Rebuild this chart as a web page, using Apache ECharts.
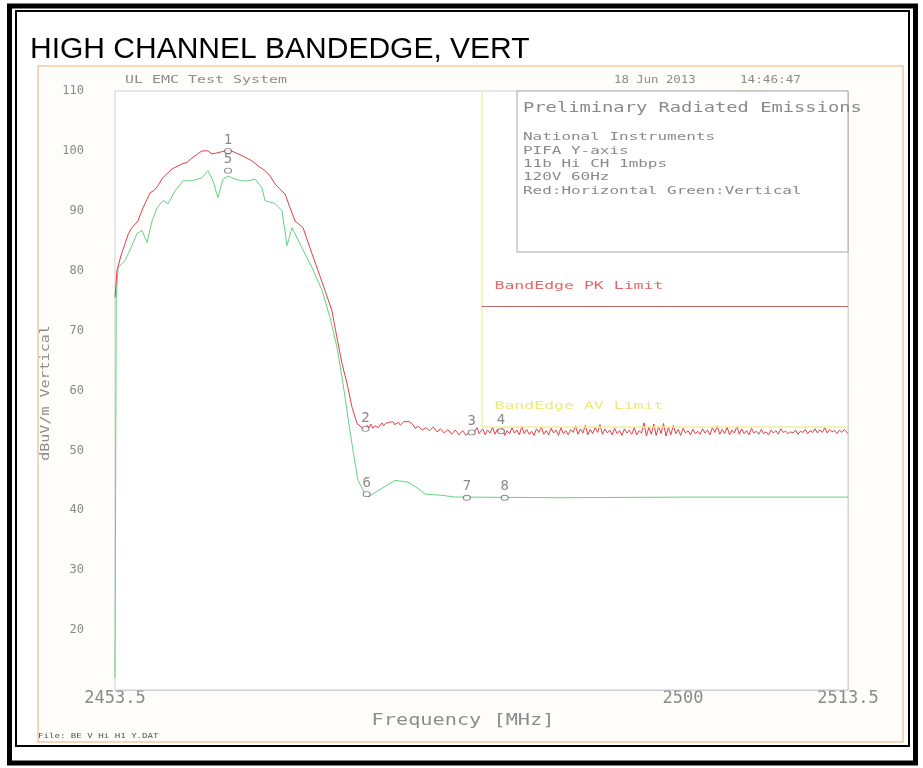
<!DOCTYPE html>
<html lang="en">
<head>
<meta charset="UTF-8">
<title>HIGH CHANNEL BANDEDGE, VERT</title>
<script src="https://cdn.jsdelivr.net/npm/echarts@6/dist/echarts.min.js"></script>
<style>
    html, body { margin: 0; padding: 0; background: #fff; }
    #main { width: 923px; height: 768px; }
</style>
</head>
<body>
<div id="main"></div>
<script>
    // axis ranges
    var freqMin = 2453.5, freqMax = 2513.5, freqStep = 46.5;
    var levelMin = 10, levelMax = 110, levelStep = 10;

    // limits
    var bandEdge = 2483.5;
    var pkLimit = 74;
    var avLimit = 54;

    // red trace: horizontal polarisation [MHz, dBuV/m]
    var redTrace = [
        [2453.5, 75.5], [2453.66, 80], [2454.0, 82.6], [2454.32, 84.5], [2454.6, 86.2], [2454.89, 87.2],
        [2455.38, 88.3], [2455.79, 90.5], [2456.37, 93], [2456.7, 93.4], [2457.02, 94.2], [2457.4, 95.5],
        [2457.76, 96.2], [2458.17, 97], [2458.98, 97.8], [2459.4, 98.1], [2459.8, 98.8], [2460.2, 99.4],
        [2460.62, 100], [2461.11, 100], [2461.44, 99.5], [2461.93, 99.7], [2462.5, 100], [2462.91, 100.1],
        [2463.57, 99.5], [2463.9, 99.2], [2464.39, 98.7], [2464.8, 98.2], [2465.21, 97.5], [2465.78, 96.7],
        [2466.2, 95.8], [2466.6, 94.5], [2467.0, 93.6], [2467.42, 92.8], [2467.83, 90.5], [2468.23, 88.3],
        [2468.89, 87.2], [2469.46, 83.8], [2470.12, 80], [2470.69, 76.7], [2471.26, 73.3], [2471.67, 68.8],
        [2472.08, 64.5], [2472.49, 61.2], [2472.9, 57.2], [2473.31, 54.5], [2473.72, 53.8],
        [2474.0, 53.6], [2474.15, 54.2], [2474.3, 53.8], [2474.45, 54.4], [2474.6, 53.7], [2474.75, 54.1],
        [2474.9, 54.3], [2475.05, 53.8], [2475.2, 54.0], [2475.35, 54.6], [2475.5, 54.1], [2475.65, 54.5],
        [2475.8, 54.2], [2475.95, 54.7], [2476.1, 54.4], [2476.25, 54.8], [2476.4, 54.3], [2476.55, 54.6],
        [2476.7, 54.7], [2476.85, 54.2], [2477.0, 54.4], [2477.15, 54.8], [2477.3, 54.5], [2477.6, 54.8],
        [2477.9, 54.3], [2478.05, 53.7], [2478.2, 53.5], [2478.35, 54.0], [2478.5, 54.2], [2478.65, 53.4],
        [2478.8, 53.2], [2478.95, 53.8], [2479.1, 53.9], [2479.25, 53.3], [2479.4, 53.4], [2479.55, 53.9],
        [2479.7, 53.6], [2479.85, 53.1], [2480.0, 53.2], [2480.15, 53.6], [2480.3, 53.4], [2480.45, 52.9],
        [2480.6, 53.0], [2480.75, 53.5], [2480.9, 53.2], [2481.05, 52.7], [2481.2, 52.9], [2481.35, 53.4],
        [2481.5, 53.0], [2481.65, 52.6], [2481.8, 52.8], [2481.95, 53.3], [2482.1, 53.0], [2482.25, 52.5],
        [2482.4, 52.7], [2482.55, 53.2], [2482.7, 53.0], [2482.85, 52.6], [2483.0, 53.4], [2483.15, 53.8],
        [2483.3, 52.8],
        [2483.6, 53.6], [2483.8, 52.6], [2484.0, 53.4], [2484.2, 52.9], [2484.4, 53.9], [2484.6, 52.7],
        [2484.8, 53.5], [2485.0, 53.0], [2485.2, 53.7], [2485.4, 52.5], [2485.6, 53.3], [2485.8, 52.8],
        [2486.0, 53.8], [2486.2, 52.9], [2486.4, 53.4], [2486.6, 52.6], [2486.8, 54.0], [2487.0, 52.8],
        [2487.2, 53.5], [2487.4, 52.7], [2487.6, 53.2], [2487.8, 52.5], [2488.0, 53.6], [2488.2, 53.0],
        [2488.4, 53.9], [2488.6, 52.7], [2488.8, 53.3], [2489.0, 52.6], [2489.2, 53.7], [2489.4, 52.9],
        [2489.6, 53.4], [2489.8, 52.5], [2490.0, 53.8], [2490.2, 52.8], [2490.4, 53.3], [2490.6, 52.6],
        [2490.8, 53.5], [2491.0, 53.0], [2491.2, 54.1], [2491.4, 52.7], [2491.6, 53.6], [2491.8, 52.9],
        [2492.0, 54.2], [2492.2, 52.6], [2492.4, 53.5], [2492.6, 52.8], [2492.8, 53.9], [2493.0, 53.0],
        [2493.2, 54.3], [2493.4, 52.7], [2493.6, 53.6], [2493.8, 52.9], [2494.0, 53.4], [2494.2, 52.6],
        [2494.4, 53.7], [2494.6, 52.8], [2494.8, 53.3], [2495.0, 52.5], [2495.2, 53.6], [2495.4, 52.9],
        [2495.6, 53.4], [2495.8, 52.7], [2496.0, 53.8], [2496.2, 52.6], [2496.4, 53.3], [2496.6, 52.9],
        [2496.8, 54.6], [2497.0, 52.4], [2497.2, 53.9], [2497.4, 52.7], [2497.6, 54.4], [2497.8, 52.5],
        [2498.0, 54.0], [2498.2, 52.8], [2498.4, 54.5], [2498.6, 52.4], [2498.8, 53.8], [2499.0, 52.6],
        [2499.2, 54.2], [2499.4, 52.8], [2499.6, 53.5], [2499.8, 52.5], [2500.0, 53.7], [2500.2, 52.9],
        [2500.4, 53.3], [2500.6, 52.6], [2500.8, 53.5], [2501.0, 52.8], [2501.2, 53.2], [2501.4, 52.7],
        [2501.6, 53.6], [2501.8, 52.9], [2502.0, 53.4], [2502.2, 52.6], [2502.4, 53.8], [2502.6, 53.0],
        [2502.8, 54.1], [2503.0, 52.7], [2503.2, 53.5], [2503.4, 52.8], [2503.6, 53.9], [2503.8, 52.6],
        [2504.0, 53.4], [2504.2, 52.9], [2504.4, 54.0], [2504.6, 52.7], [2504.8, 53.6], [2505.0, 52.8],
        [2505.2, 53.3], [2505.4, 52.6], [2505.6, 53.7], [2505.8, 52.9], [2506.0, 53.2], [2506.2, 52.7],
        [2506.4, 53.5], [2506.6, 52.8], [2506.8, 53.1], [2507.0, 52.6], [2507.2, 53.4], [2507.4, 52.9],
        [2507.6, 53.3], [2507.8, 52.7], [2508.0, 53.6], [2508.2, 53.0], [2508.4, 53.2], [2508.6, 52.8],
        [2508.8, 53.1], [2509.0, 52.9], [2509.2, 53.4], [2509.4, 52.7], [2509.6, 53.2], [2509.8, 53.0],
        [2510.0, 53.5], [2510.2, 52.8], [2510.4, 53.3], [2510.6, 53.0], [2510.8, 53.6], [2511.0, 52.9],
        [2511.2, 53.4], [2511.4, 53.0], [2511.6, 53.8], [2511.8, 52.9], [2512.0, 53.5], [2512.2, 53.1],
        [2512.4, 53.3], [2512.6, 52.8], [2512.8, 53.4], [2513.0, 53.0], [2513.2, 53.5], [2513.5, 52.8]
    ];

    // green trace: vertical polarisation [MHz, dBuV/m]
    var greenTrace = [
        [2453.5, 12], [2453.6, 75.5], [2453.75, 80.5], [2454.32, 81.7], [2454.73, 83.5], [2455.3, 86.2],
        [2455.71, 86.7], [2456.12, 84.7], [2456.53, 88.3], [2456.94, 90.5], [2457.43, 91.7], [2457.84, 91.2],
        [2458.41, 93.3], [2459.07, 95], [2459.8, 95], [2460.62, 95.5], [2461.11, 96.7], [2461.52, 95],
        [2461.93, 92.2], [2462.34, 95.3], [2462.75, 95.8], [2463.32, 95.3], [2463.9, 95], [2464.39, 95],
        [2464.96, 95.3], [2465.53, 93.8], [2465.78, 91.7], [2466.6, 91.2], [2467.17, 90], [2467.58, 84.2],
        [2467.99, 87.2], [2468.81, 83.8], [2469.63, 80.5], [2470.45, 76.7], [2471.1, 72.2], [2471.67, 67.2],
        [2472.16, 61.2], [2472.57, 55.5], [2472.98, 50], [2473.39, 45], [2473.96, 42.8], [2474.2, 42.2],
        [2475.36, 43.7], [2476.42, 45], [2477.48, 44.7], [2478.22, 43.8], [2478.88, 42.7], [2480.27, 42.5],
        [2481.33, 42.2], [2482.4, 42.2], [2490.0, 42.1], [2500.0, 42.2], [2513.5, 42.2]
    ];

    // peak markers
    var markerIds = ['1', '2', '3', '4', '5', '6', '7', '8'];
    var markerFreqs = [2462.75, 2474.0, 2482.7, 2485.1, 2462.75, 2474.1, 2482.3, 2485.4];
    var markerLevels = [100.0, 53.6, 53.0, 53.2, 96.7, 42.7, 42.1, 42.1];

    var headerLeft = 'UL EMC Test System';
    var headerDate = '18 Jun 2013';
    var headerTime = '14:46:47';
    var boxTitle = 'Preliminary Radiated Emissions';
    var boxLines = ['National Instruments', 'PIFA Y-axis', '11b Hi CH 1mbps', '120V 60Hz', 'Red:Horizontal Green:Vertical'];

    var mono = "'DejaVu Sans Mono', monospace";
    var grayText = '#8a8a8a';

    var markerData = markerIds.map(function (id, i) {
        return [markerFreqs[i], markerLevels[i], id];
    });

    var chart = echarts.init(document.getElementById('main'));

    var option = {
        animation: false,
        backgroundColor: '#fff',
        grid: {
            left: 115, right: 75, top: 91, bottom: 78,
            show: true, z: 1,
            backgroundColor: '#fff',
            borderColor: '#cfcfcf', borderWidth: 1
        },
        xAxis: {
            type: 'value',
            min: freqMin, max: freqMax, interval: freqStep,
            axisLine: { show: true, lineStyle: { color: '#cfcfcf' } },
            axisTick: { show: false },
            splitLine: { show: true, lineStyle: { color: '#dadada' } },
            axisLabel: {
                color: grayText, fontFamily: mono, fontSize: 17, margin: 0,
                showMinLabel: true, showMaxLabel: true,
                formatter: function (v) { return String(v); }
            }
        },
        yAxis: {
            type: 'value',
            min: levelMin, max: levelMax, interval: levelStep,
            axisLine: { show: true, lineStyle: { color: '#cfcfcf' } },
            axisTick: { show: false },
            splitLine: { show: true, lineStyle: { color: '#dadada' } },
            axisLabel: {
                color: grayText, fontFamily: mono, fontSize: 12, margin: 31,
                formatter: function (v) { return v === levelMin ? '' : String(v); }
            }
        },
        series: [
            {
                name: 'Vertical',
                type: 'line',
                data: greenTrace,
                showSymbol: false,
                z: 2,
                lineStyle: { color: '#62d47e', width: 1 },
                markLine: {
                    silent: true,
                    symbol: 'none',
                    label: { show: false },
                    data: [
                        [{ coord: [bandEdge, avLimit], lineStyle: { color: '#f1ee9c', width: 1.5, type: 'solid' } },
                         { coord: [freqMax, avLimit] }],
                        [{ coord: [bandEdge, avLimit], lineStyle: { color: '#f4f0b0', width: 1.5, type: 'solid' } },
                         { coord: [bandEdge, levelMax] }]
                    ]
                }
            },
            {
                name: 'Horizontal',
                type: 'line',
                data: redTrace,
                showSymbol: false,
                z: 3,
                lineStyle: { color: '#e23f42', width: 1 },
                markLine: {
                    silent: true,
                    symbol: 'none',
                    label: { show: false },
                    data: [
                        [{ coord: [bandEdge, pkLimit], lineStyle: { color: '#c26a6a', width: 1, type: 'solid' } },
                         { coord: [freqMax, pkLimit] }]
                    ]
                }
            },
            {
                name: 'Markers',
                type: 'scatter',
                data: markerData,
                z: 5,
                symbol: 'circle',
                symbolSize: [7, 5],
                itemStyle: { color: '#fff', borderColor: '#6c6c6c', borderWidth: 1 },
                label: {
                    show: true, position: 'top', distance: 1,
                    color: '#6c6c6c', fontFamily: mono, fontSize: 14,
                    formatter: function (p) { return p.value[2]; }
                }
            }
        ]
    };
    chart.setOption(option);

    function txt(x, y, text, size, color, sx, extra) {
        var el = {
            type: 'text', x: x, y: y, z: 20, scaleX: sx || 1,
            style: { text: text, x: 0, y: 0, fill: color, font: size + 'px ' + mono, verticalAlign: 'middle' }
        };
        for (var k in extra) el[k] = extra[k];
        if (extra && extra.align) el.style.align = extra.align;
        return el;
    }

    var pk = chart.convertToPixel({ gridIndex: 0 }, [bandEdge, pkLimit]);
    var av = chart.convertToPixel({ gridIndex: 0 }, [bandEdge, avLimit]);

    var graphics = [
        // page frame
        { type: 'rect', z: 0, shape: { x: 9.5, y: 6, width: 906, height: 757 }, style: { fill: 'none', stroke: '#000', lineWidth: 5 } },
        { type: 'rect', z: 0, shape: { x: 16, y: 11, width: 893, height: 735 }, style: { fill: 'none', stroke: '#000', lineWidth: 2 } },
        // plot picture background
        { type: 'rect', z: -1, shape: { x: 38, y: 66, width: 865, height: 676 }, style: { fill: '#fffdf9', stroke: '#efcaa8', lineWidth: 1.5 } },
        { type: 'text', x: 30, y: 50, z: 20, style: { text: 'HIGH CHANNEL BANDEDGE, VERT', fill: '#000', font: '30px "Liberation Sans", Arial, sans-serif', verticalAlign: 'middle' } },
        txt(125, 80, headerLeft, 11, '#8c8c8c', 1.36),
        txt(614, 80, headerDate, 11, '#8c8c8c', 1.12),
        txt(740, 80, headerTime, 11, '#8c8c8c', 1.15),
        // info box
        { type: 'rect', z: 10, shape: { x: 517, y: 91, width: 331, height: 161 }, style: { fill: '#fff', stroke: '#a8a8a8', lineWidth: 1 } },
        txt(523, 108, boxTitle, 14, '#8a8a8a', 1.34),
        txt(523, 137, boxLines[0], 11, '#8a8a8a', 1.45),
        txt(523, 151, boxLines[1], 11, '#8a8a8a', 1.45),
        txt(523, 164, boxLines[2], 11, '#8a8a8a', 1.45),
        txt(523, 177, boxLines[3], 11, '#8a8a8a', 1.45),
        txt(523, 191, boxLines[4], 11, '#8a8a8a', 1.45),
        // limit captions
        txt(pk[0] + 13, pk[1] - 20, 'BandEdge PK Limit', 11, '#e06868', 1.5),
        txt(av[0] + 13, av[1] - 20, 'BandEdge AV Limit', 11, '#ecea7a', 1.5),
        // axis names
        txt(46, 393, 'dBuV/m Vertical', 12, '#8c8c8c', 1.25, { rotation: Math.PI / 2, align: 'center' }),
        txt(463, 721, 'Frequency [MHz]', 15, '#8c8c8c', 1.35, { align: 'center' }),
        txt(38, 736, 'File: BE V Hi H1 Y.DAT', 7, '#555', 1.3)
    ];
    chart.setOption({ graphic: graphics });

    window.addEventListener('resize', function () {
        chart.resize();
    });
</script>
</body>
</html>
